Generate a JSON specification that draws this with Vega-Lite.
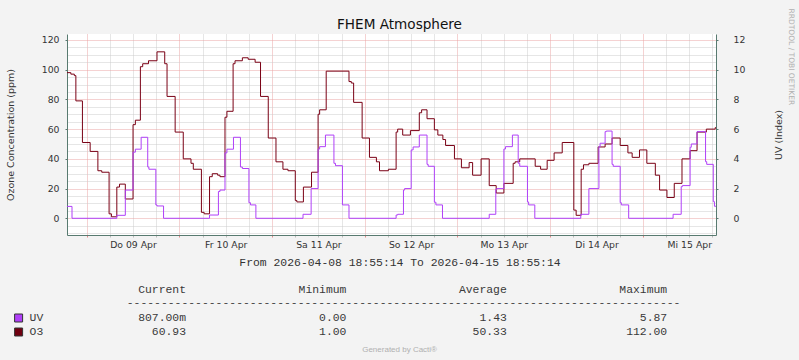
{
  "$schema": "https://vega.github.io/schema/vega-lite/v6.json",
  "width": 649,
  "height": 201,
  "autosize": {"type": "none"},
  "padding": {"left": 67, "top": 34, "right": 83, "bottom": 125},
  "background": "#f3f3f3",
  "title": {"text": "FHEM Atmosphere", "font": "DejaVu Sans", "fontSize": 13.6, "fontWeight": "normal", "color": "#111", "anchor": "middle", "dx": 8, "offset": -24},
  "config": {
    "view": {"fill": "white", "stroke": null},
    "axis": {"labelFont": "DejaVu Sans", "titleFont": "DejaVu Sans", "labelColor": "#333", "titleColor": "#333", "titleFontWeight": "normal", "labelFontSize": 9.3, "titleFontSize": 9.5}
  },
  "datasets": {
    "o3": [
      {"t": "2026-04-08 18:55", "v": 98}, {"t": "2026-04-08 19:55", "v": 97}, {"t": "2026-04-08 20:49", "v": 96}, {"t": "2026-04-08 21:13", "v": 79},
      {"t": "2026-04-08 22:55", "v": 51}, {"t": "2026-04-09 00:55", "v": 45}, {"t": "2026-04-09 02:55", "v": 32}, {"t": "2026-04-09 03:55", "v": 31},
      {"t": "2026-04-09 05:49", "v": 3}, {"t": "2026-04-09 06:25", "v": 1}, {"t": "2026-04-09 07:49", "v": 21}, {"t": "2026-04-09 08:31", "v": 23},
      {"t": "2026-04-09 10:01", "v": 13}, {"t": "2026-04-09 12:01", "v": 63}, {"t": "2026-04-09 12:37", "v": 66}, {"t": "2026-04-09 13:55", "v": 102},
      {"t": "2026-04-09 14:31", "v": 104}, {"t": "2026-04-09 16:01", "v": 106}, {"t": "2026-04-09 18:13", "v": 112}, {"t": "2026-04-09 20:13", "v": 104},
      {"t": "2026-04-09 20:49", "v": 82}, {"t": "2026-04-09 22:55", "v": 58}, {"t": "2026-04-10 01:01", "v": 40}, {"t": "2026-04-10 03:01", "v": 37},
      {"t": "2026-04-10 03:37", "v": 33}, {"t": "2026-04-10 05:43", "v": 4}, {"t": "2026-04-10 06:25", "v": 3}, {"t": "2026-04-10 07:49", "v": 28},
      {"t": "2026-04-10 08:31", "v": 30}, {"t": "2026-04-10 09:55", "v": 29}, {"t": "2026-04-10 10:31", "v": 28}, {"t": "2026-04-10 11:49", "v": 68},
      {"t": "2026-04-10 12:19", "v": 72}, {"t": "2026-04-10 13:55", "v": 104}, {"t": "2026-04-10 14:25", "v": 106}, {"t": "2026-04-10 16:19", "v": 108},
      {"t": "2026-04-10 17:49", "v": 107}, {"t": "2026-04-10 19:37", "v": 105}, {"t": "2026-04-10 21:01", "v": 82}, {"t": "2026-04-10 23:01", "v": 54},
      {"t": "2026-04-11 01:01", "v": 38}, {"t": "2026-04-11 02:49", "v": 33}, {"t": "2026-04-11 04:07", "v": 32}, {"t": "2026-04-11 06:01", "v": 12},
      {"t": "2026-04-11 06:25", "v": 11}, {"t": "2026-04-11 08:07", "v": 21}, {"t": "2026-04-11 10:13", "v": 31}, {"t": "2026-04-11 11:55", "v": 70},
      {"t": "2026-04-11 12:19", "v": 73}, {"t": "2026-04-11 14:01", "v": 99}, {"t": "2026-04-11 19:55", "v": 92}, {"t": "2026-04-11 20:31", "v": 91},
      {"t": "2026-04-11 21:07", "v": 78}, {"t": "2026-04-11 23:19", "v": 54}, {"t": "2026-04-12 01:13", "v": 41}, {"t": "2026-04-12 03:01", "v": 38},
      {"t": "2026-04-12 03:49", "v": 32}, {"t": "2026-04-12 06:07", "v": 33}, {"t": "2026-04-12 08:07", "v": 58}, {"t": "2026-04-12 08:31", "v": 60},
      {"t": "2026-04-12 09:49", "v": 56}, {"t": "2026-04-12 11:49", "v": 59}, {"t": "2026-04-12 14:07", "v": 71}, {"t": "2026-04-12 14:43", "v": 73},
      {"t": "2026-04-12 16:07", "v": 67}, {"t": "2026-04-12 18:01", "v": 59.5}, {"t": "2026-04-12 18:55", "v": 56}, {"t": "2026-04-12 20:13", "v": 53},
      {"t": "2026-04-12 20:55", "v": 49}, {"t": "2026-04-12 23:13", "v": 40}, {"t": "2026-04-13 01:01", "v": 34}, {"t": "2026-04-13 03:01", "v": 37.5},
      {"t": "2026-04-13 03:55", "v": 29}, {"t": "2026-04-13 06:07", "v": 40}, {"t": "2026-04-13 08:13", "v": 22}, {"t": "2026-04-13 10:01", "v": 17},
      {"t": "2026-04-13 12:01", "v": 23.5}, {"t": "2026-04-13 14:25", "v": 37}, {"t": "2026-04-13 14:55", "v": 38}, {"t": "2026-04-13 16:07", "v": 40},
      {"t": "2026-04-13 20:07", "v": 35}, {"t": "2026-04-13 21:31", "v": 33}, {"t": "2026-04-13 23:13", "v": 39}, {"t": "2026-04-14 01:01", "v": 44},
      {"t": "2026-04-14 03:07", "v": 51}, {"t": "2026-04-14 06:07", "v": 5.5}, {"t": "2026-04-14 06:43", "v": 2}, {"t": "2026-04-14 08:01", "v": 33},
      {"t": "2026-04-14 08:37", "v": 36}, {"t": "2026-04-14 10:01", "v": 37}, {"t": "2026-04-14 12:25", "v": 48}, {"t": "2026-04-14 14:13", "v": 50},
      {"t": "2026-04-14 16:01", "v": 54}, {"t": "2026-04-14 18:07", "v": 49}, {"t": "2026-04-14 20:07", "v": 44}, {"t": "2026-04-14 21:13", "v": 41},
      {"t": "2026-04-14 23:07", "v": 46}, {"t": "2026-04-15 01:01", "v": 37}, {"t": "2026-04-15 03:13", "v": 29}, {"t": "2026-04-15 04:19", "v": 19},
      {"t": "2026-04-15 06:13", "v": 14}, {"t": "2026-04-15 08:07", "v": 23.5}, {"t": "2026-04-15 10:07", "v": 40}, {"t": "2026-04-15 12:13", "v": 45.5},
      {"t": "2026-04-15 14:01", "v": 58}, {"t": "2026-04-15 16:25", "v": 60}, {"t": "2026-04-15 18:43", "v": 61}, {"t": "2026-04-15 18:55", "v": 61}
    ],
    "uv": [
      {"t": "2026-04-08 18:55", "v": 0.8}, {"t": "2026-04-08 20:13", "v": 0}, {"t": "2026-04-09 07:49", "v": 0.2}, {"t": "2026-04-09 10:01", "v": 1.9},
      {"t": "2026-04-09 12:01", "v": 4.45}, {"t": "2026-04-09 12:37", "v": 4.65}, {"t": "2026-04-09 14:07", "v": 5.45}, {"t": "2026-04-09 15:49", "v": 3.45},
      {"t": "2026-04-09 16:07", "v": 3.3}, {"t": "2026-04-09 17:55", "v": 0.9}, {"t": "2026-04-09 18:13", "v": 0.83}, {"t": "2026-04-09 19:55", "v": 0},
      {"t": "2026-04-10 07:49", "v": 0.22}, {"t": "2026-04-10 10:07", "v": 1.8}, {"t": "2026-04-10 10:31", "v": 1.9}, {"t": "2026-04-10 11:49", "v": 4.4},
      {"t": "2026-04-10 12:19", "v": 4.65}, {"t": "2026-04-10 14:01", "v": 5.45}, {"t": "2026-04-10 15:49", "v": 3.45}, {"t": "2026-04-10 16:19", "v": 3.35},
      {"t": "2026-04-10 18:01", "v": 1.05}, {"t": "2026-04-10 18:25", "v": 0.9}, {"t": "2026-04-10 19:49", "v": 0}, {"t": "2026-04-11 08:01", "v": 0.27},
      {"t": "2026-04-11 10:07", "v": 2.0}, {"t": "2026-04-11 11:55", "v": 4.66}, {"t": "2026-04-11 12:19", "v": 4.82}, {"t": "2026-04-11 13:49", "v": 5.6},
      {"t": "2026-04-11 16:01", "v": 3.7}, {"t": "2026-04-11 16:25", "v": 3.54}, {"t": "2026-04-11 18:13", "v": 0.9}, {"t": "2026-04-11 19:55", "v": 0},
      {"t": "2026-04-12 08:07", "v": 0.22}, {"t": "2026-04-12 08:31", "v": 0.27}, {"t": "2026-04-12 10:01", "v": 1.9}, {"t": "2026-04-12 10:19", "v": 2.0},
      {"t": "2026-04-12 12:01", "v": 4.6}, {"t": "2026-04-12 12:31", "v": 4.8}, {"t": "2026-04-12 14:07", "v": 5.6}, {"t": "2026-04-12 16:07", "v": 3.63},
      {"t": "2026-04-12 16:25", "v": 3.5}, {"t": "2026-04-12 18:01", "v": 1.08}, {"t": "2026-04-12 18:25", "v": 0.9}, {"t": "2026-04-12 20:07", "v": 0},
      {"t": "2026-04-13 08:13", "v": 0.27}, {"t": "2026-04-13 09:55", "v": 1.95}, {"t": "2026-04-13 10:13", "v": 2.0}, {"t": "2026-04-13 12:01", "v": 4.66},
      {"t": "2026-04-13 12:25", "v": 4.82}, {"t": "2026-04-13 14:13", "v": 5.6}, {"t": "2026-04-13 15:43", "v": 3.7}, {"t": "2026-04-13 16:07", "v": 3.5},
      {"t": "2026-04-13 18:07", "v": 1.1}, {"t": "2026-04-13 18:25", "v": 0.9}, {"t": "2026-04-13 20:01", "v": 0}, {"t": "2026-04-14 07:55", "v": 0.27},
      {"t": "2026-04-14 10:01", "v": 2.0}, {"t": "2026-04-14 12:37", "v": 4.82}, {"t": "2026-04-14 12:55", "v": 5.05}, {"t": "2026-04-14 14:13", "v": 5.83},
      {"t": "2026-04-14 14:31", "v": 5.87}, {"t": "2026-04-14 16:01", "v": 3.63}, {"t": "2026-04-14 16:19", "v": 3.5}, {"t": "2026-04-14 18:07", "v": 1.05},
      {"t": "2026-04-14 18:25", "v": 0.9}, {"t": "2026-04-14 20:19", "v": 0}, {"t": "2026-04-15 07:49", "v": 0.27}, {"t": "2026-04-15 09:55", "v": 2.13},
      {"t": "2026-04-15 10:13", "v": 2.2}, {"t": "2026-04-15 12:13", "v": 4.78}, {"t": "2026-04-15 12:31", "v": 5.0}, {"t": "2026-04-15 14:01", "v": 5.83},
      {"t": "2026-04-15 16:13", "v": 3.81}, {"t": "2026-04-15 16:31", "v": 3.63}, {"t": "2026-04-15 18:13", "v": 1.12}, {"t": "2026-04-15 18:31", "v": 0.81},
      {"t": "2026-04-15 18:55", "v": 0.81}
    ],
    "legend": [
      {"part": "cell", "row": 0, "col": 1, "text": "Current"},
      {"part": "cell", "row": 0, "col": 2, "text": "Minimum"},
      {"part": "cell", "row": 0, "col": 3, "text": "Average"},
      {"part": "cell", "row": 0, "col": 4, "text": "Maximum"},
      {"part": "rule", "row": 1, "col": 2.5, "text": "---------------------------------------------------------------------------------"},
      {"part": "label", "row": 2, "col": 0, "text": "UV"},
      {"part": "cell", "row": 2, "col": 1, "text": "807.00m"},
      {"part": "cell", "row": 2, "col": 2, "text": "0.00"},
      {"part": "cell", "row": 2, "col": 3, "text": "1.43"},
      {"part": "cell", "row": 2, "col": 4, "text": "5.87"},
      {"part": "label", "row": 3, "col": 0, "text": "O3"},
      {"part": "cell", "row": 3, "col": 1, "text": "60.93"},
      {"part": "cell", "row": 3, "col": 2, "text": "1.00"},
      {"part": "cell", "row": 3, "col": 3, "text": "50.33"},
      {"part": "cell", "row": 3, "col": 4, "text": "112.00"},
      {"part": "footer", "row": 4, "col": 2.5, "text": "Generated by Cacti®"}
    ]
  },
  "resolve": {"scale": {"x": "independent", "y": "independent"}, "axis": {"x": "independent", "y": "independent"}},
  "layer": [
    {
      "data": {"name": "legend"},
      "transform": [{"filter": "datum.part == 'cell'"}],
      "mark": {"type": "point", "opacity": 0},
      "encoding": {
        "x": {"field": "col", "type": "quantitative",
          "scale": {"domain": [0, 168], "nice": false, "zero": false},
          "axis": {"orient": "bottom", "grid": true, "gridColor": "#cccccc", "gridDash": [1, 1], "labels": false, "domain": false, "ticks": true, "tickSize": 2, "tickColor": "#bbbbbb", "title": null,
            "values": [11.08, 17.08, 23.08, 35.08, 41.08, 47.08, 59.08, 65.08, 71.08, 83.08, 89.08, 95.08, 107.08, 113.08, 119.08, 131.08, 137.08, 143.08, 155.08, 161.08, 167.08]}},
        "y": {"field": "row", "type": "quantitative",
          "scale": {"domain": [-11.24, 124], "nice": false, "zero": false},
          "axis": {"orient": "right", "values": [-10, -5, 5, 10, 15, 25, 30, 35, 45, 50, 55, 65, 70, 75, 85, 90, 95, 105, 110, 115],
            "grid": true, "gridColor": "#cccccc", "gridDash": [1, 1], "labels": false, "domain": false, "ticks": false,
            "title": "RRDTOOL / TOBI OETIKER", "titleFont": "DejaVu Sans", "titleFontSize": 7.5, "titleColor": "#b0b0b0", "titleAngle": 90, "titleX": 74, "titleY": -26, "titleAlign": "left", "titleBaseline": "middle"}}
      }
    },
    {
      "data": {"name": "o3", "format": {"parse": {"t": "utc:'%Y-%m-%d %H:%M'"}}},
      "mark": {"type": "line", "color": "#7a0015", "strokeWidth": 1, "interpolate": "step-after"},
      "encoding": {
        "x": {"field": "t", "type": "temporal",
          "scale": {"type": "utc", "domain": [{"year": 2026, "month": 4, "date": 8, "hours": 18, "minutes": 55, "seconds": 14, "utc": true}, {"year": 2026, "month": 4, "date": 15, "hours": 18, "minutes": 55, "seconds": 14, "utc": true}]},
          "axis": {"orient": "bottom", "grid": true, "gridColor": "#eaa5a5", "gridDash": [1, 1], "labels": false, "domain": true, "domainColor": "#587a70", "ticks": true, "tickSize": 2, "tickColor": "#e08a8a", "title": null,
            "values": [
              {"year": 2026, "month": 4, "date": 9, "utc": true}, {"year": 2026, "month": 4, "date": 10, "utc": true}, {"year": 2026, "month": 4, "date": 11, "utc": true},
              {"year": 2026, "month": 4, "date": 12, "utc": true}, {"year": 2026, "month": 4, "date": 13, "utc": true}, {"year": 2026, "month": 4, "date": 14, "utc": true},
              {"year": 2026, "month": 4, "date": 15, "utc": true}
            ]}},
        "y": {"field": "v", "type": "quantitative",
          "scale": {"domain": [-11.24, 124], "nice": false, "zero": false},
          "axis": {"orient": "left", "values": [0, 20, 40, 60, 80, 100, 120], "grid": true, "gridColor": "#eaa5a5", "gridDash": [1, 1],
            "domain": true, "domainColor": "#587a70", "ticks": true, "tickSize": 2, "tickColor": "#587a70", "labelPadding": 6,
            "title": "Ozone Concentration (ppm)", "titleAngle": 270, "titleX": -57, "titleY": 100.5, "titleAlign": "center", "titleBaseline": "middle"}}
      }
    },
    {
      "data": {"name": "uv", "format": {"parse": {"t": "utc:'%Y-%m-%d %H:%M'"}}},
      "mark": {"type": "line", "color": "#b040f8", "strokeWidth": 1, "interpolate": "step-after"},
      "encoding": {
        "x": {"field": "t", "type": "temporal",
          "scale": {"type": "utc", "domain": [{"year": 2026, "month": 4, "date": 8, "hours": 18, "minutes": 55, "seconds": 14, "utc": true}, {"year": 2026, "month": 4, "date": 15, "hours": 18, "minutes": 55, "seconds": 14, "utc": true}]},
          "axis": {"orient": "bottom", "grid": false, "domain": false, "ticks": false, "labelPadding": 5, "labelOverlap": false, "labelFlush": false,
            "labelExpr": "['So','Mo','Di','Mi','Do','Fr','Sa'][utcday(datum.value)] + ' ' + utcFormat(datum.value, '%d %b')",
            "title": "From 2026-04-08 18:55:14 To 2026-04-15 18:55:14", "titleFont": "Liberation Mono", "titleFontSize": 11.4, "titleColor": "#333", "titlePadding": 7, "titleX": 332.5,
            "values": [
              {"year": 2026, "month": 4, "date": 9, "hours": 12, "utc": true}, {"year": 2026, "month": 4, "date": 10, "hours": 12, "utc": true}, {"year": 2026, "month": 4, "date": 11, "hours": 12, "utc": true},
              {"year": 2026, "month": 4, "date": 12, "hours": 12, "utc": true}, {"year": 2026, "month": 4, "date": 13, "hours": 12, "utc": true}, {"year": 2026, "month": 4, "date": 14, "hours": 12, "utc": true},
              {"year": 2026, "month": 4, "date": 15, "hours": 12, "utc": true}
            ]}},
        "y": {"field": "v", "type": "quantitative",
          "scale": {"domain": [-1.124, 12.4], "nice": false, "zero": false},
          "axis": {"orient": "right", "values": [0, 2, 4, 6, 8, 10, 12], "grid": false, "domain": true, "domainColor": "#587a70", "ticks": true, "tickSize": 2, "tickColor": "#587a70", "labelPadding": 15,
            "title": "UV (Index)", "titleAngle": 270, "titleX": 62.5, "titleY": 100.5, "titleAlign": "center", "titleBaseline": "middle"}}
      }
    },
    {
      "data": {"name": "legend"},
      "transform": [{"filter": "datum.part == 'cell'"}],
      "mark": {"type": "text", "align": "right", "baseline": "middle", "font": "Liberation Mono", "fontSize": 11.4, "color": "#3a3a3a"},
      "encoding": {
        "x": {"field": "col", "type": "quantitative", "scale": {"domain": [0.2581, 4.3042], "nice": false, "zero": false}, "axis": null},
        "y": {"field": "row", "type": "quantitative", "scale": {"domain": [-18.286, -3.929], "nice": false, "zero": false, "reverse": true}, "axis": null},
        "text": {"field": "text"}
      }
    },
    {
      "data": {"name": "legend"},
      "transform": [{"filter": "datum.part == 'label'"}],
      "mark": {"type": "text", "align": "left", "baseline": "middle", "font": "Liberation Mono", "fontSize": 11.4, "color": "#3a3a3a", "dx": 4},
      "encoding": {
        "x": {"field": "col", "type": "quantitative", "scale": {"domain": [0.2581, 4.3042], "nice": false, "zero": false}, "axis": null},
        "y": {"field": "row", "type": "quantitative", "scale": {"domain": [-18.286, -3.929], "nice": false, "zero": false, "reverse": true}, "axis": null},
        "text": {"field": "text"}
      }
    },
    {
      "data": {"name": "legend"},
      "transform": [{"filter": "datum.part == 'label'"}],
      "mark": {"type": "point", "shape": "square", "size": 64, "filled": true, "stroke": "#333", "strokeWidth": 1, "opacity": 1, "xOffset": -7},
      "encoding": {
        "x": {"field": "col", "type": "quantitative", "scale": {"domain": [0.2581, 4.3042], "nice": false, "zero": false}, "axis": null},
        "y": {"field": "row", "type": "quantitative", "scale": {"domain": [-18.286, -3.929], "nice": false, "zero": false, "reverse": true}, "axis": null},
        "fill": {"field": "text", "type": "nominal", "scale": {"domain": ["UV", "O3"], "range": ["#b040f8", "#700010"]}, "legend": null}
      }
    },
    {
      "data": {"name": "legend"},
      "transform": [{"filter": "datum.part == 'rule'"}],
      "mark": {"type": "text", "align": "center", "baseline": "middle", "font": "Liberation Mono", "fontSize": 11.4, "color": "#444", "dx": -23, "dy": -1},
      "encoding": {
        "x": {"field": "col", "type": "quantitative", "scale": {"domain": [0.2581, 4.3042], "nice": false, "zero": false}, "axis": null},
        "y": {"field": "row", "type": "quantitative", "scale": {"domain": [-18.286, -3.929], "nice": false, "zero": false, "reverse": true}, "axis": null},
        "text": {"field": "text"}
      }
    },
    {
      "data": {"name": "legend"},
      "transform": [{"filter": "datum.part == 'footer'"}],
      "mark": {"type": "text", "align": "center", "baseline": "middle", "font": "Liberation Sans", "fontSize": 8, "color": "#b0b0b0", "dx": -27, "dy": 4},
      "encoding": {
        "x": {"field": "col", "type": "quantitative", "scale": {"domain": [0.2581, 4.3042], "nice": false, "zero": false}, "axis": null},
        "y": {"field": "row", "type": "quantitative", "scale": {"domain": [-18.286, -3.929], "nice": false, "zero": false, "reverse": true}, "axis": null},
        "text": {"field": "text"}
      }
    }
  ]
}
